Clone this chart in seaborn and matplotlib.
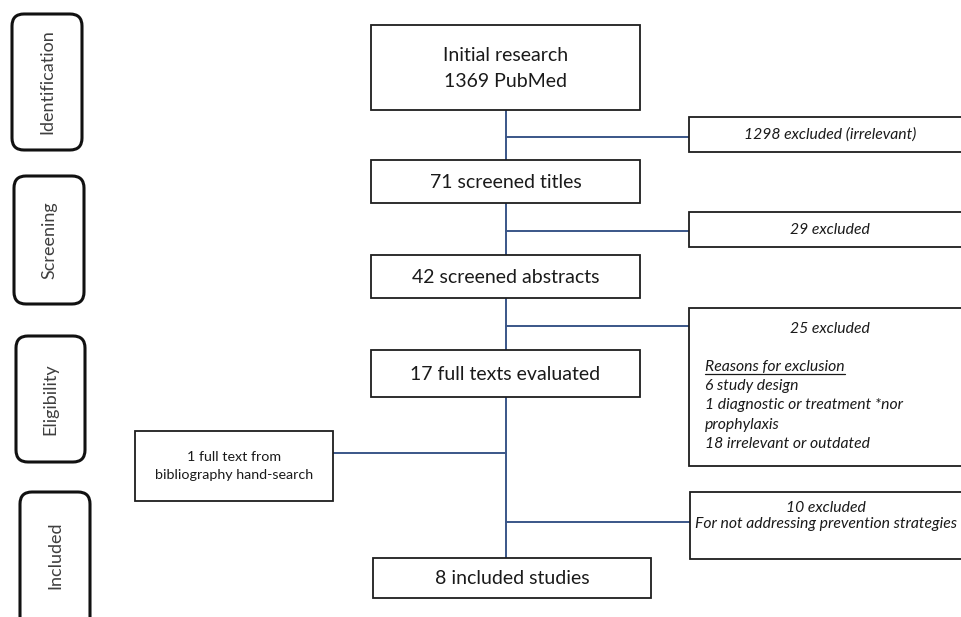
import matplotlib
matplotlib.use("Agg")
import matplotlib.pyplot as plt
from matplotlib.patches import Rectangle, FancyBboxPatch
import seaborn as sns

# ---- content ----
phases = ["Identification", "Screening", "Eligibility", "Included"]
main_steps = ["Initial research\n1369 PubMed", "71 screened titles", "42 screened abstracts",
              "17 full texts evaluated", "8 included studies"]
excl_titles = ["1298 excluded (irrelevant)", "29 excluded", "25 excluded",
               "10 excluded\nFor not addressing prevention strategies"]
reasons_header = "Reasons for exclusion"
reasons = ["6 study design", "1 diagnostic or treatment *nor", "prophylaxis", "18 irrelevant or outdated"]
added_text = "1 full text from\nbibliography hand-search"

# ---- layout (pixels) ----
phase_boxes = [(12, 14, 70, 136), (14, 176, 70, 128), (16, 336, 69, 126), (20, 492, 70, 140)]
phase_text_y = [82, 240, 399, 555]
main_boxes = [(371, 25, 269, 85), (371, 160, 269, 43), (371, 255, 269, 43),
              (371, 350, 269, 47), (373, 558, 278, 40)]
excl_boxes = [(689, 117, 320, 35), (689, 212, 320, 35), (689, 308, 320, 158), (690, 492, 320, 67)]
excl_text_x = [830, 830, 830, 826]
excl_text_y = [134.5, 229.5, 329, 516]
branch_y = [137, 231, 326, 522]
spine_x = 506
added_box = (135, 431, 198, 70)
added_y = 453
reason_x = 705
header_y = 367
reason_y = [386, 405, 425, 444]

line_col = "#3a5688"
edge_col = "#1e1e1e"
txt_col = "#1a1a1a"

sns.set_theme(style="white")
plt.rcParams["font.family"] = ["Lato", "DejaVu Sans"]

fig = plt.figure(figsize=(9.62, 6.17), dpi=100)
ax = fig.add_axes([0, 0, 1, 1])
ax.set_xlim(0, 962)
ax.set_ylim(617, 0)
ax.axis("off")

# phase boxes
for (x, y, w, h), ty, lab in zip(phase_boxes, phase_text_y, phases):
    ax.add_patch(FancyBboxPatch((x, y), w, h, boxstyle="round,pad=0,rounding_size=12",
                                fc="white", ec="#111111", lw=2.2))
    ax.text(x + w / 2, ty, lab, rotation=90, ha="center", va="center",
            fontsize=13, color="#3f3f3f")

# spine and branches
ax.plot([spine_x, spine_x], [110, 558], color=line_col, lw=1.4, zorder=1)
for by, (x, y, w, h) in zip(branch_y, excl_boxes):
    ax.plot([spine_x, x], [by, by], color=line_col, lw=1.4, zorder=1)
ax.plot([added_box[0] + added_box[2], spine_x], [added_y, added_y], color=line_col, lw=1.4, zorder=1)

# main boxes
for (x, y, w, h), lab in zip(main_boxes, main_steps):
    ax.add_patch(Rectangle((x, y), w, h, fc="white", ec=edge_col, lw=1.3, zorder=2))
    ax.text(x + w / 2, y + h / 2 + 1, lab, ha="center", va="center", fontsize=14,
            color=txt_col, linespacing=1.65, zorder=3)

# exclusion boxes
for (x, y, w, h), tx, ty, lab in zip(excl_boxes, excl_text_x, excl_text_y, excl_titles):
    ax.add_patch(Rectangle((x, y), w, h, fc="white", ec=edge_col, lw=1.3, zorder=2))
    ax.text(tx, ty, lab, ha="center", va="center", fontsize=11.3,
            style="italic", color=txt_col, linespacing=1.2, zorder=3)

t = ax.text(reason_x, header_y, reasons_header, ha="left", va="center", fontsize=11.3,
            style="italic", color=txt_col, zorder=3)
fig.canvas.draw()
bb = t.get_window_extent().transformed(ax.transData.inverted())
ax.plot([bb.x0, bb.x1], [header_y + 7, header_y + 7], color=txt_col, lw=0.9, zorder=3)
for yy, lab in zip(reason_y, reasons):
    ax.text(reason_x, yy, lab, ha="left", va="center",
            fontsize=11.3, style="italic", color=txt_col, zorder=3)

# added record box
x, y, w, h = added_box
ax.add_patch(Rectangle((x, y), w, h, fc="white", ec=edge_col, lw=1.3, zorder=2))
ax.text(x + w / 2, y + h / 2, added_text, ha="center", va="center", fontsize=10.3,
        color=txt_col, linespacing=1.6, zorder=3)

fig.savefig("out.png", dpi=100)
